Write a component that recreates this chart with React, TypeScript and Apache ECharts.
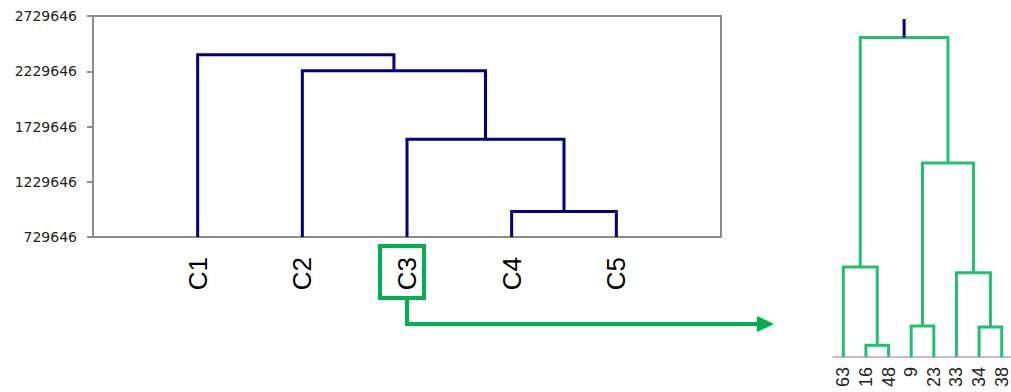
import React, { useEffect, useRef } from "react";
import * as echarts from "echarts";

// ---- Data ----
const leftLeaves = ["C1", "C2", "C3", "C4", "C5"];
const leftTickMin = 729646;
const leftTickMax = 2729646;
const leftTickStep = 500000;
// merges: [childA, childB, height]; children < n are leaves, otherwise cluster n+k
const leftMerges: [number, number, number][] = [
  [3, 4, 960000],
  [2, 5, 1615000],
  [1, 6, 2235000],
  [0, 7, 2380000],
];

const rightLeaves = ["63", "16", "48", "9", "23", "33", "34", "38"];
const rightMerges: [number, number, number][] = [
  [1, 2, 3.5],
  [0, 8, 26.6],
  [3, 4, 9.2],
  [6, 7, 8.9],
  [5, 11, 24.9],
  [10, 12, 57.4],
  [9, 13, 94.5],
];
const rightStubTop = 100;

function buildLinks(n: number, merges: [number, number, number][], base: number) {
  const xs: number[] = [];
  const hs: number[] = [];
  for (let i = 0; i < n; i++) {
    xs.push(i + 1);
    hs.push(base);
  }
  const links: number[][] = [];
  merges.forEach(([a, b, h]) => {
    links.push([xs[a], hs[a], xs[b], hs[b], h]);
    xs.push((xs[a] + xs[b]) / 2);
    hs.push(h);
  });
  return { links, rootX: xs[xs.length - 1], rootH: hs[hs.length - 1] };
}

const NAVY = "#000080";
const GREEN_D = "#22c06e";
const GREEN = "#00b050";
const GRAY = "#8c8c8c";

function linkSeries(links: number[][], color: string, idx: number) {
  return {
    type: "custom",
    xAxisIndex: idx,
    yAxisIndex: idx,
    data: links,
    encode: { x: [0, 2], y: [1, 3, 4] },
    renderItem: (_p: any, api: any) => {
      const xa = api.value(0), ha = api.value(1), xb = api.value(2), hb = api.value(3), h = api.value(4);
      const pts = [api.coord([xa, ha]), api.coord([xa, h]), api.coord([xb, h]), api.coord([xb, hb])];
      return {
        type: "polyline",
        shape: { points: pts },
        style: { stroke: color, lineWidth: 3, fill: null, lineJoin: "miter" },
      };
    },
  };
}

export default function App() {
  const ref = useRef<HTMLDivElement>(null);
  useEffect(() => {
    if (!ref.current) return;
    const chart = echarts.init(ref.current, null, { renderer: "svg" });
    const L = buildLinks(leftLeaves.length, leftMerges, leftTickMin);
    const R = buildLinks(rightLeaves.length, rightMerges, 0);
    chart.setOption({
      animation: false,
      backgroundColor: "#ffffff",
      grid: [
        { left: 93, top: 16, width: 628, height: 221, show: true, borderColor: GRAY, borderWidth: 2, containLabel: false },
        { left: 833, top: 19, width: 178, height: 338, show: false, containLabel: false },
      ],
      xAxis: [
        {
          type: "value",
          gridIndex: 0,
          min: 0,
          max: leftLeaves.length + 1,
          axisLine: { show: false },
          axisTick: { show: false },
          splitLine: { show: false },
          axisLabel: {
            customValues: leftLeaves.map((_, i) => i + 1),
            formatter: (v: number) => leftLeaves[Math.round(v) - 1] ?? "",
            rotate: 90,
            margin: 20,
            fontSize: 26,
            fontFamily: "Liberation Sans",
            color: "#000",
          },
        },
        {
          type: "value",
          gridIndex: 1,
          min: 0.545,
          max: 8.41,
          axisLine: { show: true, onZero: false, lineStyle: { color: "#aaaaaa", width: 1.5 } },
          axisTick: { show: false },
          splitLine: { show: false },
          axisLabel: {
            customValues: rightLeaves.map((_, i) => i + 1),
            formatter: (v: number) => rightLeaves[Math.round(v) - 1] ?? "",
            rotate: 90,
            margin: 10,
            fontSize: 18,
            fontFamily: "Liberation Sans",
            color: "#222",
          },
        },
      ],
      yAxis: [
        {
          type: "value",
          gridIndex: 0,
          min: leftTickMin,
          max: leftTickMax,
          interval: leftTickStep,
          axisLine: { show: true, lineStyle: { color: GRAY, width: 2 } },
          axisTick: { show: true, length: 6, lineStyle: { color: GRAY, width: 2 } },
          splitLine: { show: false },
          axisLabel: {
            formatter: (v: number) => String(v),
            margin: 16,
            fontSize: 14,
            fontFamily: "DejaVu Sans",
            color: "#222",
          },
        },
        {
          type: "value",
          gridIndex: 1,
          min: 0,
          max: rightStubTop,
          show: false,
        },
      ],
      series: [
        linkSeries(L.links, NAVY, 0),
        linkSeries(R.links, GREEN_D, 1),
        {
          type: "line",
          xAxisIndex: 1,
          yAxisIndex: 1,
          data: [[R.rootX, R.rootH], [R.rootX, rightStubTop]],
          showSymbol: false,
          lineStyle: { color: NAVY, width: 3 },
        },
      ],
      graphic: [
        {
          type: "rect",
          shape: { x: 380, y: 246, width: 44, height: 52 },
          style: { fill: "none", stroke: GREEN, lineWidth: 4 },
        },
        {
          type: "polyline",
          shape: { points: [[407, 298], [407, 324], [759, 324]] },
          style: { fill: "none", stroke: GREEN, lineWidth: 4 },
        },
        {
          type: "polygon",
          shape: { points: [[757, 316], [774, 324], [757, 332]] },
          style: { fill: GREEN },
        },
      ],
    });
    return () => chart.dispose();
  }, []);
  return (
    <div
      ref={ref}
      style={{ position: "fixed", left: 0, top: 0, width: 1011, height: 392 }}
    />
  );
}
